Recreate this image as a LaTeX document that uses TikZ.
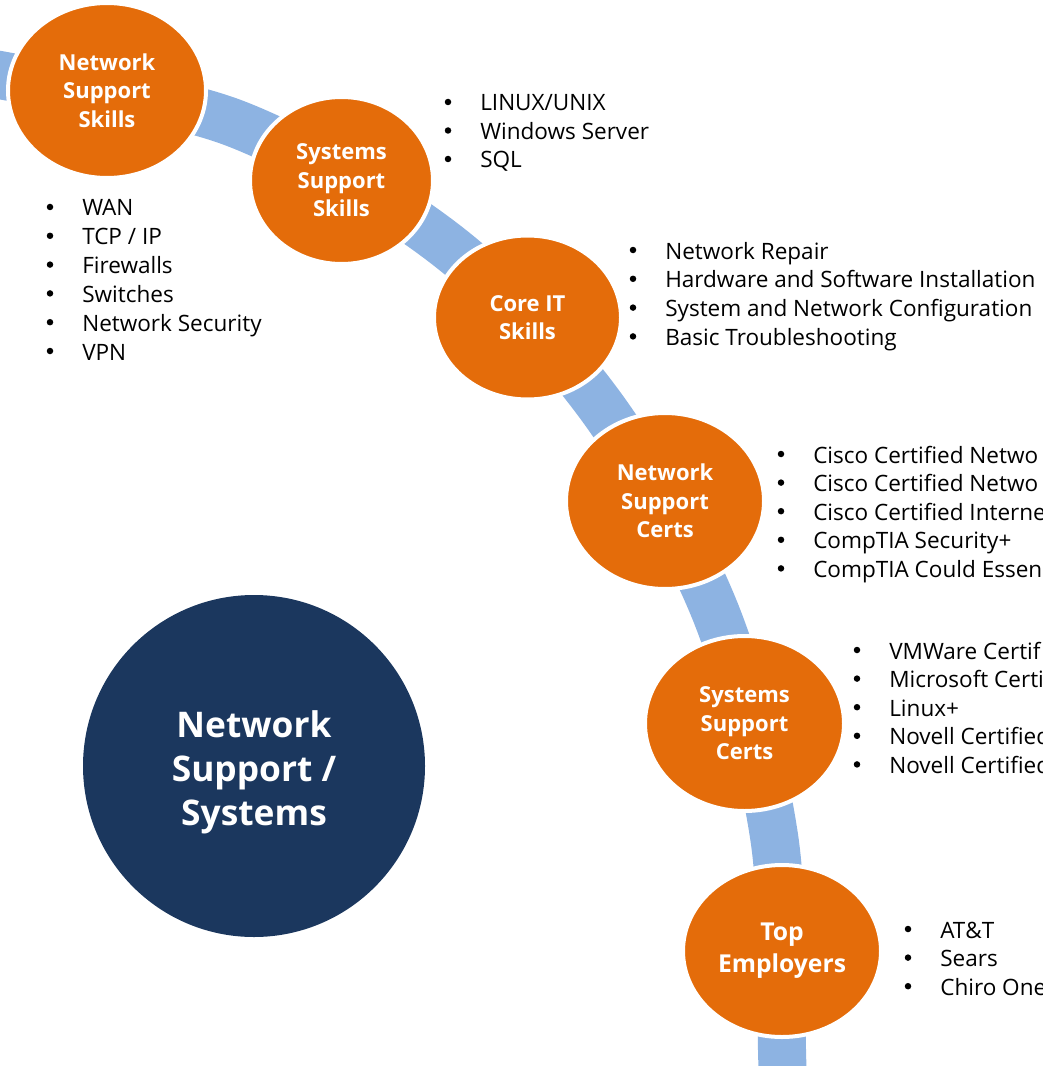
\documentclass[tikz,border=0pt]{standalone}
\usepackage{fontspec}
\setmainfont{Open Sans}
\usetikzlibrary{shapes.geometric}
\definecolor{orng}{HTML}{E46C0A}
\definecolor{bandblue}{HTML}{8DB3E2}
\definecolor{navy}{HTML}{1B375E}
\begin{document}
\begin{tikzpicture}[x=0.75pt,y=-0.75pt,
  stage/.style={ellipse, fill=orng, draw=white, line width=3pt, inner sep=0pt,
    text=white, align=center, font=\bfseries\fontsize{16.5}{21.4}\selectfont},
  hub/.style={circle, fill=navy, inner sep=0pt},
  item/.style={anchor=base west, inner sep=0pt, text=black,
    font=\fontsize{16.9}{20}\selectfont},
  dot/.style={circle, fill=black, inner sep=0pt, minimum size={6.5*0.75pt}},
  band/.style={draw=bandblue, line width=36pt}]
\useasboundingbox (0,0) rectangle (1042,1066);
\clip (0,0) rectangle (1042,1066);
% curved band
\draw[band] plot[smooth, tension=0.55] coordinates {(-60,68) (5,76) (234,123) (445,244) (600,405) (715,611) (774,836) (782,1050) (782,1120)};
% stages
\node[stage, minimum width={198*0.75pt}, minimum height={175*0.75pt}] (nss) at (107,90.5) {Network\\Support\\Skills};
\node[stage, minimum width={183*0.75pt}, minimum height={167*0.75pt}] (sss) at (341.5,180.5) {Systems\\Support\\Skills};
\node[stage, minimum width={187*0.75pt}, minimum height={164*0.75pt}] (core) at (527.5,317.5) {Core IT\\Skills};
\node[stage, minimum width={198*0.75pt}, minimum height={176*0.75pt}] (nsc) at (665,501) {Network\\Support\\Certs};
\node[stage, minimum width={199*0.75pt}, minimum height={175*0.75pt}] (sysc) at (744.5,723.5) {Systems\\Support\\Certs};
\node[stage, minimum width={198*0.75pt}, minimum height={172*0.75pt}, font=\bfseries\fontsize{18.5}{24}\selectfont] (top) at (782,951) {Top\\Employers};
% hub
\node[hub, minimum size={342*0.75pt}] (hubc) at (254,766) {};
\node[text=white, align=center, inner sep=0pt, font=\bfseries\fontsize{26.5}{33}\selectfont] (hubt) at (254,772) {Network\\Support /\\Systems};
% lists
\foreach \t [count=\i] in {WAN,TCP / IP,Firewalls,Switches,Network Security,VPN}{
  \node[item] (nssl\i) at (82,{216+28.8*(\i-1)}) {\t};
  \node[dot] (nssb\i) at (50,{207+28.8*(\i-1)}) {};}
\foreach \t [count=\i] in {LINUX/UNIX,Windows Server,SQL}{
  \node[item] (sssl\i) at (480,{111+28.5*(\i-1)}) {\t};
  \node[dot] (sssb\i) at (448,{102+28.5*(\i-1)}) {};}
\foreach \t [count=\i] in {Network Repair,Hardware and Software Installation,System and Network Configuration,Basic Troubleshooting}{
  \node[item] (corel\i) at (665,{259+28.8*(\i-1)}) {\t};
  \node[dot] (coreb\i) at (633,{250+28.8*(\i-1)}) {};}
\foreach \t [count=\i] in {Cisco Certified Netwo,Cisco Certified Netwo,Cisco Certified Interne,CompTIA Security+,CompTIA Could Essen}{
  \node[item] (nscl\i) at (813,{463+28.6*(\i-1)}) {\t};
  \node[dot] (nscb\i) at (781,{454+28.6*(\i-1)}) {};}
\foreach \t [count=\i] in {VMWare Certif,Microsoft Certi,Linux+,Novell Certified,Novell Certified}{
  \node[item] (syscl\i) at (889,{659+28.6*(\i-1)}) {\t};
  \node[dot] (syscb\i) at (857,{650+28.6*(\i-1)}) {};}
\foreach \t [count=\i] in {AT\&T,Sears,Chiro One}{
  \node[item] (topl\i) at (940,{938+28.6*(\i-1)}) {\t};
  \node[dot] (topb\i) at (908,{929+28.6*(\i-1)}) {};}
\end{tikzpicture}
\end{document}
